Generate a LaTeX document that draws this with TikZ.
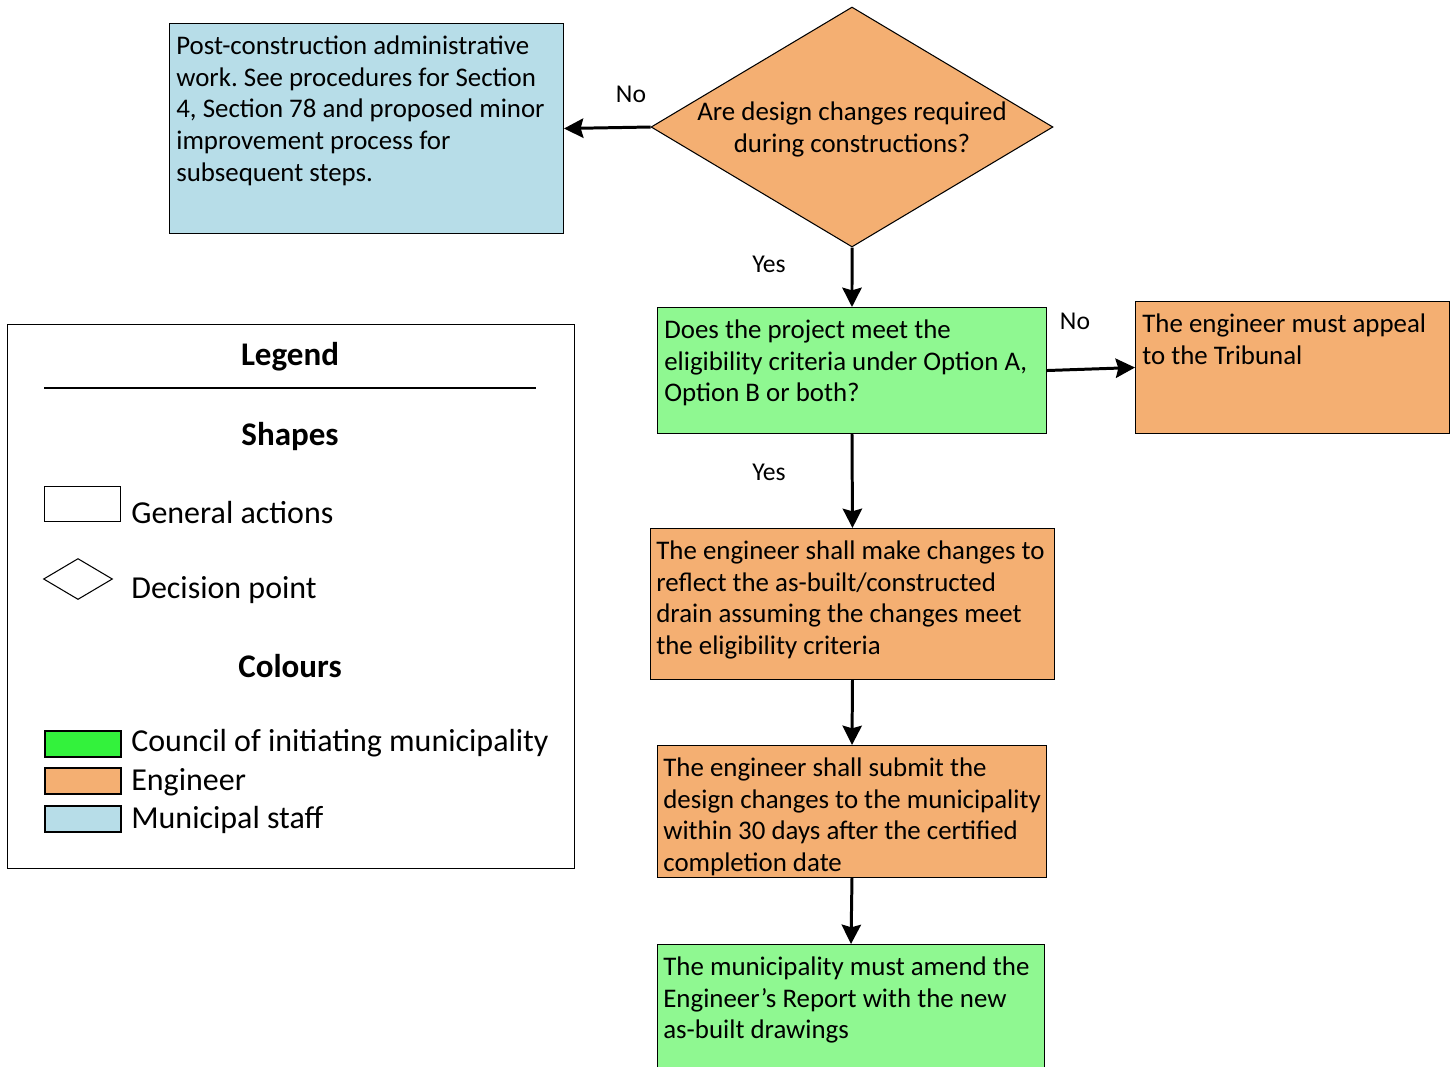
\documentclass[tikz,border=0pt]{standalone}
\usepackage{fontspec}
\setmainfont{Carlito}
\usetikzlibrary{positioning,shapes.geometric,arrows.meta}
\definecolor{engorange}{HTML}{F4AF72}
\definecolor{staffblue}{HTML}{B7DDE8}
\definecolor{councilgreen}{HTML}{8FF891}
\definecolor{legendgreen}{HTML}{33F23C}
\frenchspacing

\begin{document}
\begin{tikzpicture}[x=0.02cm, y=-0.02cm,
  box/.style={draw, line width=0.6pt, inner sep=0pt, anchor=north west},
  boxtext/.style={anchor=north west, inner sep=0pt, align=left, font=\fontsize{15.3}{18.2}\selectfont},
  flow/.style={-{Stealth[length=11pt,width=11pt,inset=1.5pt]}, line width=1.7pt},
  lbl/.style={font=\fontsize{14.6}{17}\selectfont},
  legtext/.style={anchor=west, inner sep=0pt, font=\fontsize{18.2}{21}\selectfont},
  legtitle/.style={font=\fontsize{18.8}{21}\selectfont\bfseries},
  swatch/.style={draw, line width=1pt, inner sep=0pt, anchor=north west, minimum width=1.52cm, minimum height=0.52cm}]
  \useasboundingbox (0,0) rectangle (1456,1066);
  \clip (0,0) rectangle (1456,1066);

  % decision at the top
  \node[diamond, draw, line width=0.6pt, fill=engorange, inner sep=0pt,
        minimum width=8.04cm, minimum height=4.8cm] (q1) at (852,127) {};
  \node[boxtext, anchor=center, align=center] (q1text) at ([yshift=-1.5pt]q1.center) {Are design changes required\\during constructions?};

  % boxes of the flow
  \node[box, fill=staffblue, minimum width=7.88cm, minimum height=4.2cm] (post) at (169,23) {};
  \node[boxtext] (posttext) at ([shift={(7,12)}]post.north west) {Post-construction administrative\\work. See procedures for Section\\4, Section 78 and proposed minor\\improvement process for\\subsequent steps.};

  \node[box, fill=councilgreen, minimum width=7.78cm, minimum height=2.52cm] (q2) at (657,307) {};
  \node[boxtext] (q2text) at ([shift={(7,12)}]q2.north west) {Does the project meet the\\eligibility criteria under Option A,\\Option B or both?};

  \node[box, fill=engorange, minimum width=6.28cm, minimum height=2.64cm] (appeal) at (1135,301) {};
  \node[boxtext] (appealtext) at ([shift={(7,12)}]appeal.north west) {The engineer must appeal\\to the Tribunal};

  \node[box, fill=engorange, minimum width=8.08cm, minimum height=3.02cm] (redraw) at (650,528) {};
  \node[boxtext] (redrawtext) at ([shift={(6,12)}]redraw.north west) {The engineer shall make changes to\\reflect the as-built/constructed\\drain assuming the changes meet\\the eligibility criteria};

  \node[box, fill=engorange, minimum width=7.78cm, minimum height=2.64cm] (submit) at (657,745) {};
  \node[boxtext] (submittext) at ([shift={(6,12)}]submit.north west) {The engineer shall submit the\\design changes to the municipality\\within 30 days after the certified\\completion date};

  \node[box, fill=councilgreen, minimum width=7.74cm, minimum height=3cm] (amend) at (657,944) {};
  \node[boxtext] (amendtext) at ([shift={(6,12)}]amend.north west) {The municipality must amend the\\Engineer’s Report with the new\\as-built drawings};

  % connectors
  \draw[flow] (q1.west) -- (post.east);
  \draw[flow] (q1.south) -- (q2.north);
  \draw[flow] (q2.east) -- (appeal.west);
  \draw[flow] (q2.south) -- (redraw.north);
  \draw[flow] (redraw.south) -- (submit.north);
  \draw[flow] (submit.south) -- (amend.north);

  \node[lbl] (no1) at (631,94) {No};
  \node[lbl] (yes1) at (769,264) {Yes};
  \node[lbl] (no2) at (1075,321) {No};
  \node[lbl] (yes2) at (769,472) {Yes};

  % legend
  \node[box, line width=0.8pt, minimum width=11.34cm, minimum height=10.88cm] (legend) at (7,324) {};
  \node[legtitle] (legendtitle) at (290,357) {Legend};
  \draw[line width=0.8pt] (44,388) -- (536,388);
  \node[legtitle] (shapes) at (290,436) {Shapes};
  \node[box, line width=0.8pt, minimum width=1.52cm, minimum height=0.7cm] (general) at (44,486) {};
  \node[legtext] (generaltext) at (131,512) {General actions};
  \node[diamond, draw, line width=0.6pt, inner sep=0pt,
        minimum width=1.38cm, minimum height=0.82cm] (decision) at (78,579) {};
  \node[legtext] (decisiontext) at (131,590) {Decision point};
  \node[legtitle] (colours) at (290,666) {Colours};
  \node[swatch, fill=legendgreen] (council) at (44,730) {};
  \node[legtext] (counciltext) at (131,743) {Council of initiating municipality};
  \node[swatch, fill=engorange] (engineer) at (44,767) {};
  \node[legtext] (engineertext) at (131,782) {Engineer};
  \node[swatch, fill=staffblue] (staff) at (44,805) {};
  \node[legtext] (stafftext) at (131,820) {Municipal staff};
\end{tikzpicture}
\end{document}
